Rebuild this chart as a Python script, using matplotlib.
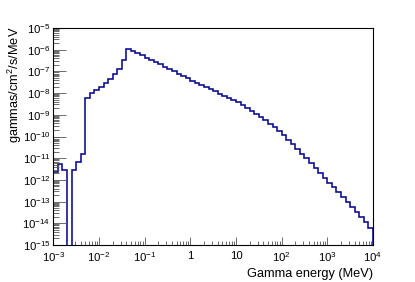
import numpy as np
import matplotlib
matplotlib.use("Agg")
import matplotlib.pyplot as plt
from matplotlib.ticker import LogLocator, NullFormatter

plt.rcParams['font.family'] = ['Liberation Sans', 'DejaVu Sans']
plt.rcParams['mathtext.fontset'] = 'custom'
plt.rcParams['mathtext.rm'] = 'Liberation Sans'
plt.rcParams['mathtext.it'] = 'Liberation Sans:italic'
plt.rcParams['mathtext.bf'] = 'Liberation Sans:bold'

# Histogram: 10 log bins per decade from 1e-3 to 1e4 MeV
bin_log_edges = np.linspace(-3, 4, 71)
flux = [
    2.3e-12, 5.6e-12, 2.95e-12, 0.0, 2.8e-12, 6.5e-12, 1.6e-11, 5.7e-9, 9.7e-9, 1.44e-8,
    2.0e-8, 3.0e-8, 4.6e-8, 7.3e-8, 1.29e-7, 3.5e-7, 1.03e-6, 8.4e-7, 6.8e-7, 5.5e-7,
    4.3e-7, 3.5e-7, 2.7e-7, 2.1e-7, 1.6e-7, 1.29e-7, 9.9e-8, 7.7e-8, 6.1e-8, 4.8e-8,
    3.8e-8, 3.0e-8, 2.4e-8, 1.9e-8, 1.55e-8, 1.2e-8, 9.4e-9, 7.6e-9, 5.9e-9, 4.7e-9,
    3.7e-9, 2.8e-9, 2.1e-9, 1.55e-9, 1.12e-9, 8.0e-10, 5.6e-10, 3.9e-10, 2.65e-10, 1.77e-10,
    1.14e-10, 7.1e-11, 4.4e-11, 2.65e-11, 1.6e-11, 9.7e-12, 5.8e-12, 3.5e-12, 2.1e-12, 1.26e-12,
    7.5e-13, 4.5e-13, 2.65e-13, 1.58e-13, 9.3e-14, 5.5e-14, 3.2e-14, 1.87e-14, 1.09e-14, 6.3e-15,
]
xtick_vals = [1e-3, 1e-2, 1e-1, 1, 10, 1e2, 1e3, 1e4]
xtick_labels = [r'$10^{-3}$', r'$10^{-2}$', r'$10^{-1}$', '1', '10',
                r'$10^{2}$', r'$10^{3}$', r'$10^{4}$']
ytick_vals = [10.0 ** e for e in range(-15, -4)]
ytick_labels = [r'$10^{%d}$' % e for e in range(-15, -4)]

edges = 10.0 ** bin_log_edges
vals = np.array(flux, dtype=float)
floor = 1e-18
vals_plot = np.where(vals > 0, vals, floor)

fig = plt.figure(figsize=(4.15, 2.82), dpi=100)
ax = fig.add_axes([0.1284, 0.1312, 0.8988 - 0.1284, 0.9007 - 0.1312])
ax.set_xscale('log')
ax.set_yscale('log')
ax.stairs(vals_plot, edges, baseline=floor, color='#08088f', linewidth=1.15)
ax.set_xlim(1e-3, 1e4)
ax.set_ylim(1e-15, 1e-5)

ax.set_xticks(xtick_vals)
ax.set_xticklabels(xtick_labels)
ax.set_yticks(ytick_vals)
ax.set_yticklabels(ytick_labels)
ax.xaxis.set_minor_locator(LogLocator(base=10, subs=np.arange(2, 10), numticks=100))
ax.yaxis.set_minor_locator(LogLocator(base=10, subs=np.arange(2, 10), numticks=100))
ax.xaxis.set_minor_formatter(NullFormatter())
ax.yaxis.set_minor_formatter(NullFormatter())

ax.tick_params(axis='both', which='both', direction='in', top=False, right=False,
               colors='#555555', labelcolor='black', labelsize=8.2, width=0.6)
ax.tick_params(axis='x', which='major', length=6, pad=4)
ax.tick_params(axis='x', which='minor', length=3)
ax.tick_params(axis='y', which='major', length=9, pad=2)
ax.tick_params(axis='y', which='minor', length=4.5)
for s in ax.spines.values():
    s.set_linewidth(0.8)
    s.set_color('black')

fig.text(0.8988, 0.030, 'Gamma energy (MeV)', ha='right', va='center', fontsize=9.2)
fig.text(0.036, 0.905, r'gammas/cm$^{2}$/s/MeV', ha='center', va='top',
         rotation=90, fontsize=9.2)

fig.savefig('out.png', dpi=100)
